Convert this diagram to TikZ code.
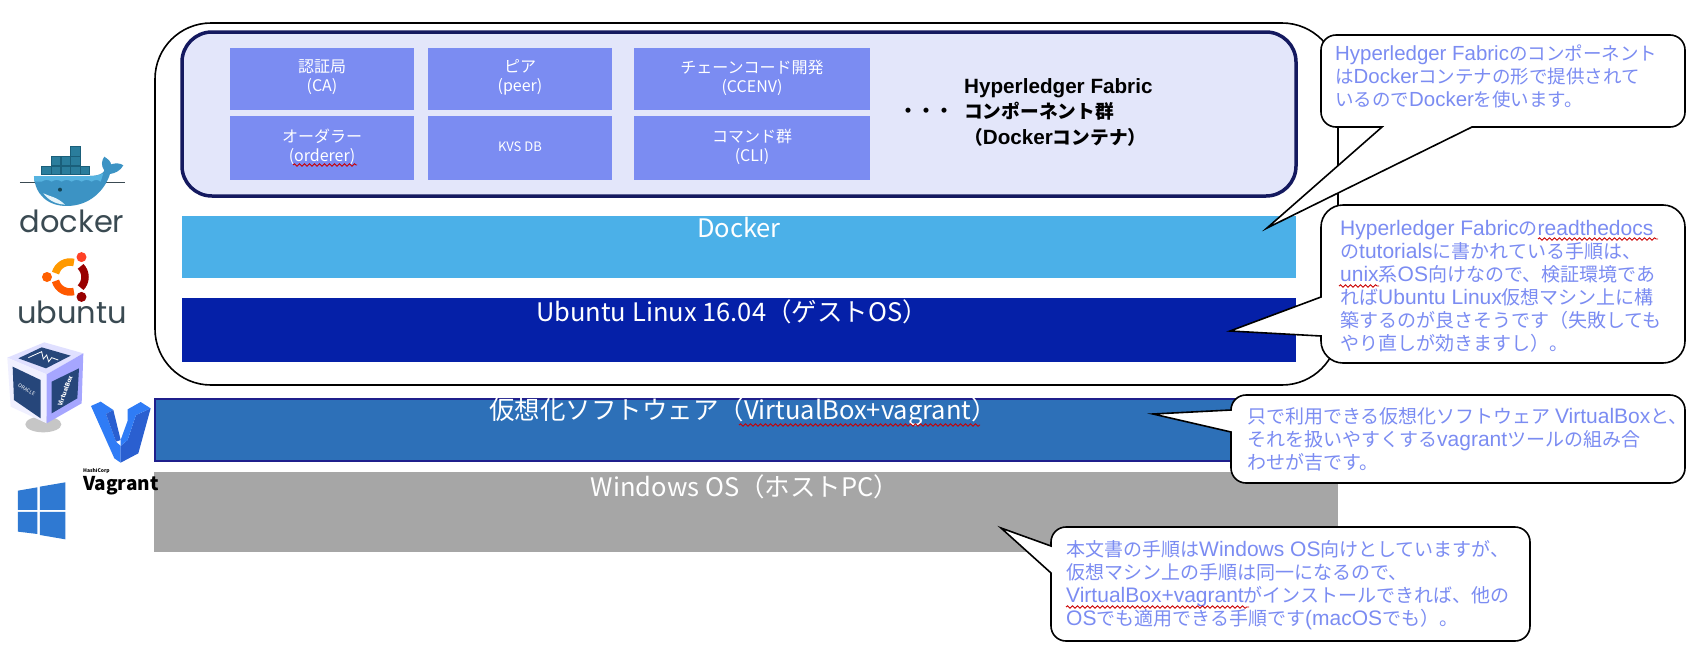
\documentclass[tikz,border=0pt]{standalone}
\usepackage{fontspec}
\setmainfont{Noto Sans CJK JP}
\newfontfamily\logofont{Poppins}
\newfontfamily\arialfont{Liberation Sans}[Scale=1.105]
\newcommand{\lat}[1]{{\arialfont #1}}
\usetikzlibrary{decorations.pathmorphing}

\definecolor{navyline}{HTML}{14195F}
\definecolor{stackfill}{HTML}{E3E6FA}
\definecolor{cellblue}{HTML}{7B8CF2}
\definecolor{dockerblue}{HTML}{4BB0E8}
\definecolor{ubuntublue}{HTML}{0520A8}
\definecolor{vboxblue}{HTML}{2D70B8}
\definecolor{vboxline}{HTML}{1F1F8C}
\definecolor{winblue}{HTML}{2F79D2}
\definecolor{greybar}{HTML}{A6A6A6}
\definecolor{logogrey}{HTML}{3A4A52}
\definecolor{whalelight}{HTML}{56B3E0}
\definecolor{whaledark}{HTML}{3C93C4}
\definecolor{crate}{HTML}{2A7D9C}
\definecolor{cratedark}{HTML}{1A5F7A}
\definecolor{cubepanel}{HTML}{26467A}
\definecolor{vagrantlight}{HTML}{2F7CF6}
\definecolor{vagrantdark}{HTML}{2A5FD0}

\tikzset{
  flatbox/.style={inner sep=0pt,outer sep=0pt,minimum width=#1},
  cellbox/.style={flatbox=184,minimum height=62,fill=cellblue},
  celltext/.style={text=white,inner sep=0pt,align=center,yshift=1.5pt,font=\fontsize{16}{19}\selectfont},
  barlabel/.style={text=white,inner sep=0pt,font=\fontsize{25.5}{28}\selectfont},
  calltext/.style={anchor=north west,inner sep=0pt,text=cellblue,align=left,font=\fontsize{19}{23}\selectfont},
  callout/.style={draw=black,line width=1.6,fill=white},
  spell/.style={draw=red!80!black,line width=0.9,decorate,
    decoration={snake,segment length=5pt,amplitude=1.2pt}},
  logotext/.style={inner sep=0pt,text=logogrey,font=\logofont\fontsize{30.5}{31}\selectfont}
}

\begin{document}
\lineskiplimit=-20pt
\begin{tikzpicture}[x=1pt,y=-1pt]
\useasboundingbox (0,0) rectangle (1692,662);
\fill[white] (0,0) rectangle (1692,662);

% guest machine and component group
\node[flatbox=1183,minimum height=362,draw=black,line width=1.6,rounded corners=56] (guest) at (746.5,204) {};
\node[flatbox=1114,minimum height=164,draw=navyline,line width=3.5,fill=stackfill,rounded corners=30] (stack) at (739,114) {};

\node[cellbox,label={[celltext]center:認証局\\(CA)}] (ca) at (322,79) {};
\node[cellbox,label={[celltext]center:ピア\\(peer)}] (peer) at (520,79) {};
\node[cellbox,flatbox=236,label={[celltext]center:チェーンコード開発\\(CCENV)}] (ccenv) at (752,79) {};
\node[cellbox,minimum height=64,label={[celltext]center:オーダラー\\(orderer)}] (orderer) at (322,148) {};
\node[cellbox,minimum height=64,label={[celltext,font=\fontsize{13}{15}\selectfont]center:KVS DB}] (kvs) at (520,148) {};
\node[cellbox,flatbox=236,minimum height=64,label={[celltext]center:コマンド群\\(CLI)}] (cli) at (752,148) {};
\draw[spell] (293,165) -- (357,165);

\node[inner sep=0pt,font=\bfseries\fontsize{18}{22}\selectfont] (dots) at (926,113) {・・・};
\node[anchor=north west,inner sep=0pt,align=left,font=\bfseries\fontsize{18.7}{25.5}\selectfont] (fabric) at (964,78) {\lat{Hyperledger Fabric}\\コンポーネント群\\（\lat{Docker}コンテナ）};

% layers
\node[flatbox=1114,minimum height=62,fill=dockerblue] (dockerbar) at (739,247) {};
\node[barlabel] (dockerlabel) at (739,228) {Docker};
\node[flatbox=1114,minimum height=64,fill=ubuntublue] (ubuntubar) at (739,330) {};
\node[barlabel] (ubuntulabel) at (732,312) {Ubuntu Linux 16.04（ゲストOS）};
\node[flatbox=1182,minimum height=62,fill=vboxblue,draw=vboxline,line width=2] (vboxbar) at (746,430) {};
\node[barlabel] (vboxlabel) at (743,412) {仮想化ソフトウェア（VirtualBox+vagrant）};
\draw[spell] (739,425) -- (980,425);
\node[flatbox=1184,minimum height=80,fill=greybar] (winbar) at (746,512) {};
\node[barlabel] (winlabel) at (745,487) {Windows OS（ホストPC）};

% callouts
\draw[callout] (1382,127) [rounded corners=15] -- (1321,127) -- (1321,35) -- (1685,35) -- (1685,127) [sharp corners] -- (1472,127) -- (1267,228) -- cycle;
\node[calltext,font=\fontsize{18.5}{23}\selectfont] (fabricnote) at (1335,45) {\lat{Hyperledger Fabric}のコンポーネント\\は\lat{Docker}コンテナの形で提供されて\\いるので\lat{Docker}を使います。};

\draw[callout] (1321,297) [rounded corners=22] -- (1321,205) -- (1685,205) -- (1685,363) -- (1321,363) [sharp corners] -- (1321,336) -- (1230,331) -- cycle;
\node[calltext] (ubuntunote) at (1340,220) {\lat{Hyperledger Fabric}の\lat{readthedocs}\\の\lat{tutorials}に書かれている手順は、\\\lat{unix}系\lat{OS}向けなので、検証環境であ\\れば\lat{Ubuntu Linux}仮想マシン上に構\\築するのが良さそうです（失敗しても\\やり直しが効きますし）。};
\draw[spell] (1538,239) -- (1658,239);
\draw[spell] (1339,286) -- (1379,286);

\draw[callout] (1231,410) [rounded corners=15] -- (1231,395) -- (1685,395) -- (1685,483) -- (1231,483) [sharp corners] -- (1231,432) -- (1153,414) -- cycle;
\node[calltext] (vboxnote) at (1247,407) {只で利用できる仮想化ソフトウェア \lat{VirtualBox}と、\\それを扱いやすくする\lat{vagrant}ツールの組み合\\わせが吉です。};

\draw[callout] (1051,546) [rounded corners=15] -- (1051,527) -- (1530,527) -- (1530,641) -- (1051,641) [sharp corners] -- (1051,573) -- (1001,528) -- cycle;
\node[calltext] (winnote) at (1066,540) {本文書の手順は\lat{Windows OS}向けとしていますが、\\仮想マシン上の手順は同一になるので、\\\lat{VirtualBox+vagrant}がインストールできれば、他の\\\lat{OS}でも適用できる手順です\lat{(macOS}でも）。};
\draw[spell] (1066,607) -- (1249,607);

% docker logo
\begin{scope}[shift={(10,140)},x=0.3333pt,y=-0.3333pt]
\draw[logogrey,line width=0.7] (30,128) -- (345,128);
\filldraw[draw=cratedark,fill=crate,line width=0.5]
  (95,78) rectangle (123,103) (124,78) rectangle (152,103) (153,78) rectangle (181,103)
  (182,78) rectangle (210,103) (211,78) rectangle (238,103)
  (124,50) rectangle (152,77) (153,50) rectangle (181,77) (182,50) rectangle (210,77)
  (182,20) rectangle (210,48);
\fill[whaledark] (72,108) -- (240,108) .. controls (265,108) and (280,100) .. (283,92)
  .. controls (272,75) and (275,62) .. (283,50) .. controls (295,58) and (303,65) .. (303,73)
  .. controls (318,68) and (332,70) .. (340,76) .. controls (332,92) and (315,100) .. (300,102)
  .. controls (285,150) and (240,198) .. (170,198) .. controls (115,198) and (75,165) .. (72,108) -- cycle;
\fill[whalelight] (72,108) -- (240,108) .. controls (258,108) and (272,104) .. (280,100) -- (272,125)
  .. controls (262,118) and (255,118) .. (245,125) .. controls (235,118) and (225,118) .. (215,125)
  .. controls (205,118) and (195,118) .. (185,125) .. controls (175,118) and (165,118) .. (155,125)
  .. controls (145,118) and (135,118) .. (125,125) .. controls (115,118) and (105,118) .. (95,125) -- (73,125) -- cycle;
\fill[white!85!whalelight] (100,160) .. controls (120,170) and (140,170) .. (165,194) .. controls (135,192) and (115,180) .. (100,160) -- cycle;
\fill[cratedark!70!black] (150,149) circle[radius=2pt];
\end{scope}
\node[logotext] (dockerword) at (72,221) {docker};

% ubuntu logo
\begin{scope}[shift={(70,277)},x=1pt,y=1pt]
\foreach \a/\arccol in {75/orange!80!yellow,195/orange!70!red,-45/red!60!black}
  \draw[line width=7.5,\arccol] (\a:15) arc[start angle=\a,end angle=\a+90,radius=15pt];
\fill[red!75!orange!85!white] (60:23) circle[radius=5pt];
\fill[orange!75!red] (180:23) circle[radius=5pt];
\fill[red!60!black] (300:23) circle[radius=5pt];
\end{scope}
\node[logotext] (ubuntuword) at (72,312) {ubuntu};

% virtualbox logo
\begin{scope}[shift={(0,335)},x=0.3333pt,y=-0.3333pt]
\fill[gray!45] (130,268) ellipse[x radius=18pt,y radius=8pt];
\fill[blue!12!white] (133,22) -- (22,68) -- (140,118) -- (250,55) -- cycle;
\fill[blue!6!white] (22,68) -- (140,118) -- (140,265) -- (32,215) -- cycle;
\fill[blue!35!white] (140,118) -- (250,55) -- (245,205) -- (140,265) -- cycle;
\fill[cubepanel] (125,37) -- (212,62) -- (138,100) -- (55,70) -- cycle;
\fill[cubepanel] (38,95) -- (122,135) -- (122,250) -- (42,195) -- cycle;
\fill[cubepanel] (155,140) -- (237,100) -- (232,190) -- (155,235) -- cycle;
\draw[white,line width=0.8] (85,68) -- (125,50) -- (130,72) -- (140,60) -- (146,80) -- (155,68) -- (175,75);
\node[text=white,inner sep=0pt,rotate=-30,font=\fontsize{5}{5}\selectfont] (oracleword) at (80,165) {ORACLE};
\node[text=white,inner sep=0pt,rotate=70,font=\bfseries\fontsize{6}{6}\selectfont] (vboxword) at (195,168) {VirtualBox};
\end{scope}

% vagrant logo
\begin{scope}[shift={(80,390)},x=0.3333pt,y=-0.3333pt]
\fill[vagrantlight] (33,48) -- (62,35) -- (100,60) -- (78,72) -- (108,155) -- (122,168) -- (122,218) -- (103,205) -- cycle;
\fill[vagrantdark] (78,72) -- (100,60) -- (122,150) -- (108,155) -- cycle;
\fill[vagrantdark] (122,168) -- (143,150) -- (168,75) -- (212,55) -- (175,190) -- (122,218) -- cycle;
\fill[vagrantlight] (143,58) -- (182,36) -- (212,55) -- (168,75) -- (143,150) -- (122,168) -- (122,150) -- (143,92) -- cycle;
\end{scope}
\node[anchor=west,inner sep=0pt,font=\bfseries\fontsize{5}{5}\selectfont] (hashiword) at (83,471) {HashiCorp};
\node[anchor=west,inner sep=0pt,font=\bfseries\fontsize{19}{19}\selectfont] (vagrantword) at (83,486) {Vagrant};

% windows logo
\begin{scope}[shift={(0,330)},x=0.3333pt,y=-0.3333pt]
\fill[winblue] (54,482) -- (112,472) -- (112,540) -- (54,540) -- cycle;
\fill[winblue] (120,470) -- (196,457) -- (196,540) -- (120,540) -- cycle;
\fill[winblue] (54,546) -- (112,546) -- (112,612) -- (54,605) -- cycle;
\fill[winblue] (120,546) -- (196,546) -- (196,628) -- (120,615) -- cycle;
\end{scope}
\end{tikzpicture}
\end{document}
